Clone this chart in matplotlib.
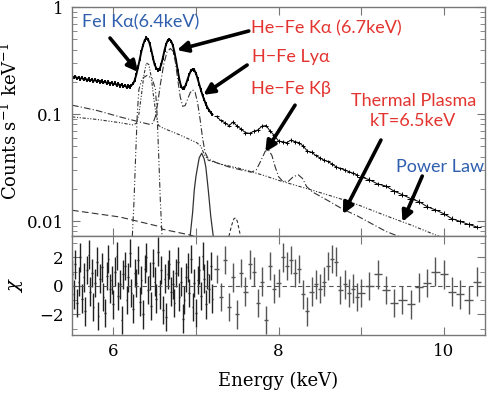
import numpy as np
import matplotlib.pyplot as plt

plt.rcParams['font.family'] = 'DejaVu Serif'
plt.rcParams['mathtext.fontset'] = 'dejavuserif'

# --- observed spectrum, three binnings (counts s^-1 keV^-1) ---
e_fine = np.round(np.arange(5.50, 7.21, 0.02), 2)
spec_fine = [
    0.226, 0.218, 0.224, 0.215, 0.221, 0.212, 0.219, 0.210, 0.216, 0.207,
    0.213, 0.205, 0.211, 0.203, 0.209, 0.201, 0.207, 0.199, 0.204, 0.196,
    0.202, 0.194, 0.199, 0.191, 0.197, 0.189, 0.195, 0.186, 0.192, 0.183,
    0.189, 0.180, 0.186, 0.178, 0.183, 0.179, 0.186, 0.192, 0.208, 0.236,
    0.275, 0.325, 0.385, 0.440, 0.490, 0.515, 0.500, 0.455, 0.395, 0.335,
    0.290, 0.268, 0.258, 0.262, 0.290, 0.335, 0.395, 0.450, 0.490, 0.500,
    0.480, 0.440, 0.380, 0.315, 0.255, 0.210, 0.182, 0.172, 0.175, 0.190,
    0.212, 0.235, 0.255, 0.262, 0.258, 0.240, 0.215, 0.190, 0.168, 0.150,
    0.136, 0.124, 0.115, 0.108, 0.103, 0.099,
]
e_mid = np.round(np.arange(7.25, 8.96, 0.05), 2)
spec_mid = [
    0.095, 0.087, 0.083, 0.078, 0.084, 0.077, 0.072, 0.067, 0.066, 0.069,
    0.071, 0.077, 0.078, 0.069, 0.063, 0.056, 0.055, 0.054, 0.057, 0.055,
    0.054, 0.050, 0.045, 0.044, 0.041, 0.039, 0.037, 0.036, 0.034, 0.032,
    0.031, 0.030, 0.029, 0.028, 0.027,
]
e_wide = np.round(np.arange(9.0, 10.41, 0.1), 1)
spec_wide = [0.0258, 0.0243, 0.0222, 0.0212, 0.0190, 0.0176, 0.0162, 0.0152,
             0.0136, 0.0127, 0.0117, 0.0105, 0.0099, 0.0093, 0.0088]
rel_err = [0.035, 0.04, 0.05]
half_bin = [0.01, 0.025, 0.05]

# --- residuals (chi) on the same bins ---
chi_fine = [
    0.8, -0.6, 1.5, -1.2, 0.3, 2.0, -0.9, 0.6, -1.8, 1.1,
    2.2, -0.4, 0.9, -1.5, 0.2, 1.7, -2.1, 0.5, 1.3, -0.8,
    -1.9, 0.7, 1.9, -0.2, 0.4, -1.3, 1.0, 2.1, -0.7, 0.1,
    -2.4, 0.8, 1.4, -1.0, 0.6, 2.3, -0.5, -1.6, 0.9, 0.2,
    1.8, -1.1, 0.4, -2.0, 1.2, 2.0, -0.3, 0.7, -1.4, 1.6,
    0.3, -0.9, 2.4, -0.6, 1.1, -1.7, 0.5, -2.2, 0.8, 1.5,
    -0.4, 0.1, -1.2, 0.9, 1.7, -0.8, 0.3, -2.3, -1.0, 0.6,
    1.3, -0.5, 1.9, -1.5, 0.2, -1.9, 0.4, 1.1, -0.7, 2.1,
    0.5, -1.3, 0.8, -0.2, 1.4, -0.9,
]
chi_mid = [
    1.2, -0.8, 1.8, -1.5, 0.6, -2.0, 0.9, -0.4, 1.5, 1.0,
    -1.2, 0.3, -2.4, 1.4, -0.2, 0.2, 2.0, 1.4, 1.8, 0.9,
    1.2, -0.6, -1.8, -0.4, 0.1, -0.2, 0.3, 1.4, 1.9, 1.7,
    -0.3, 0.1, -0.5, -0.2, -0.8,
]
chi_wide = [-0.5, 0.0, 0.8, -0.3, -1.2, -1.0, -1.3, -0.1, 0.2, 1.0,
            0.8, -0.4, -0.6, -1.0, 0.3]

# --- model components ---
thermal_e = [5.50, 5.80, 6.08, 6.30, 6.44, 6.48, 6.51, 6.54, 6.57, 6.61,
             6.65, 6.69, 6.72, 6.75, 6.78, 6.81, 6.84, 6.87, 6.90, 6.93,
             6.96, 6.99, 7.02, 7.05, 7.08, 7.11, 7.15, 7.25, 7.40, 7.55,
             7.67, 7.73, 7.79, 7.84, 7.88, 7.92, 7.96, 8.00, 8.05, 8.12,
             8.18, 8.24, 8.29, 8.34, 8.41, 8.60, 8.77, 8.95, 9.11, 9.30,
             9.45, 9.60]
thermal_v = [0.121, 0.108, 0.094, 0.085, 0.080, 0.082, 0.095, 0.13, 0.19, 0.29,
             0.38, 0.41, 0.39, 0.31, 0.21, 0.145, 0.118, 0.120, 0.138, 0.158,
             0.168, 0.160, 0.128, 0.090, 0.060, 0.044, 0.038, 0.035, 0.032, 0.030,
             0.0286, 0.030, 0.037, 0.045, 0.046, 0.041, 0.032, 0.026, 0.0235, 0.0235,
             0.026, 0.027, 0.025, 0.021, 0.0187, 0.0155, 0.0130, 0.0112, 0.0096, 0.0080,
             0.0072, 0.0064]

plaw_e = [5.50, 5.80, 6.08, 6.24, 6.28, 6.31, 6.34, 6.37, 6.40, 6.43,
          6.46, 6.49, 6.52, 6.55, 6.60, 6.80, 7.01, 7.06, 7.10, 7.15,
          7.30, 7.53, 7.80, 8.00, 8.40, 8.87, 9.30, 9.60, 9.96, 10.10]
plaw_v = [0.094, 0.089, 0.083, 0.079, 0.082, 0.10, 0.15, 0.23, 0.300, 0.29,
          0.22, 0.14, 0.095, 0.078, 0.074, 0.064, 0.054, 0.050, 0.042, 0.037,
          0.034, 0.031, 0.027, 0.024, 0.0195, 0.0151, 0.0112, 0.0092, 0.0071, 0.0066]

feka_e = [6.23, 6.25, 6.27, 6.29, 6.31, 6.35, 6.41, 6.47, 6.51, 6.53, 6.55, 6.57, 6.59]
feka_v = [0.0072, 0.015, 0.04, 0.10, 0.17, 0.215, 0.23, 0.215, 0.17, 0.10, 0.04, 0.015, 0.0072]

fekb_e = [6.93, 6.96, 6.98, 7.00, 7.02, 7.04, 7.07, 7.10, 7.12, 7.15, 7.18, 7.21]
fekb_v = [0.0072, 0.012, 0.0194, 0.026, 0.032, 0.039, 0.043, 0.038, 0.032, 0.0194, 0.011, 0.0072]

ni_e = [7.40, 7.43, 7.46, 7.48, 7.50, 7.52, 7.54]
ni_v = [0.0072, 0.0090, 0.0105, 0.0107, 0.0100, 0.0085, 0.0072]

low_e = [5.50, 6.08, 6.58, 6.59, 6.93, 7.00]
low_v = [0.0126, 0.0109, 0.0088, 0.0084, 0.0074, 0.0071]

RED = '#e3342f'
BLUE = '#2f5fae'
LINE = '#333333'
SPINE = '#777777'
ANN_FONT = ['Lato', 'DejaVu Sans']

fig = plt.figure(figsize=(4.99, 3.95), dpi=100)
ax = fig.add_axes([0.1443, 0.4025, 0.8277, 0.5797])
axr = fig.add_axes([0.1443, 0.1519, 0.8277, 0.2506], sharex=ax)

# data
groups = [(e_fine, spec_fine, chi_fine), (e_mid, spec_mid, chi_mid), (e_wide, spec_wide, chi_wide)]
for i, (e, s, c) in enumerate(groups):
    s = np.array(s)
    lw = 1.3 if i == 0 else 0.7
    ax.errorbar(e, s, xerr=half_bin[i], yerr=s * rel_err[i], fmt='none',
                ecolor='black', elinewidth=lw)
    ax.plot(e, s, color='black', lw=1.4 if i == 0 else 0.7)
    col = '#222222' if i == 0 else '#555555'
    axr.errorbar(e, c, xerr=half_bin[i], yerr=1.0, fmt='none', ecolor=col, elinewidth=1.0)

# model components
ax.plot(thermal_e, thermal_v, color=LINE, lw=0.8, ls=(0, (6, 2, 1, 2)))
ax.plot(plaw_e, plaw_v, color=LINE, lw=0.8, ls=(0, (3, 1.5, 1, 1.5, 1, 1.5)))
ax.plot(feka_e, feka_v, color=LINE, lw=0.8, ls=(0, (5, 2, 1, 2, 1, 2)))
ax.plot(fekb_e, fekb_v, color=LINE, lw=0.9)
ax.plot(ni_e, ni_v, color=LINE, lw=0.8, ls=(0, (3, 2)))
ax.plot(low_e, low_v, color=LINE, lw=0.8, ls=(0, (6, 3)))

axr.axhline(0, color='#555555', lw=0.8, ls=(0, (4, 3)))

ax.set_yscale('log')
ax.set_xlim(5.5, 10.5)
ax.set_ylim(0.00724, 1.0)
ax.set_yticks([0.01, 0.1, 1], labels=['0.01', '0.1', '1'])
axr.set_ylim(-3.45, 3.5)
axr.set_yticks([-2, 0, 2], labels=['\u22122', '0', '2'])
axr.set_yticks([-3, -1, 1, 3], minor=True)
axr.set_xticks([6, 7, 8, 9, 10], labels=['6', '', '8', '', '10'])
ax.tick_params(labelbottom=False)

for a in (ax, axr):
    a.tick_params(which='both', direction='in', top=True, right=True,
                  color=SPINE, labelsize=12, pad=6)
    a.tick_params(which='major', length=6)
    a.tick_params(which='minor', length=3.5)
    for sp in a.spines.values():
        sp.set_color(SPINE)
        sp.set_linewidth(1.0)

ax.set_ylabel('Counts s$^{-1}$ keV$^{-1}$', fontsize=13, labelpad=4)
axr.set_ylabel('$\\chi$', fontsize=14, labelpad=10)
axr.set_xlabel('Energy (keV)', fontsize=13, labelpad=8)
fig.align_ylabels([ax, axr])

# annotations
arrow = dict(arrowstyle='-|>', lw=2.6, mutation_scale=16, color='black',
             shrinkA=0, shrinkB=0)
arrows = [((6.30, 0.247), (5.96, 0.513)),
          ((6.77, 0.396), (7.64, 0.597)),
          ((7.09, 0.151), (7.62, 0.287)),
          ((7.84, 0.0441), (8.20, 0.121)),
          ((8.78, 0.0116), (9.24, 0.0571)),
          ((9.50, 0.0098), (9.74, 0.0263))]
for head, tail in arrows:
    ax.annotate('', xy=head, xytext=tail, arrowprops=arrow)

labels = [('FeI K\u03b1(6.4keV)', 5.62, 0.724, BLUE, 'left'),
          ('He\u2212Fe K\u03b1 (6.7keV)', 7.67, 0.636, RED, 'left'),
          ('H\u2212Fe Ly\u03b1', 7.68, 0.341, RED, 'left'),
          ('He\u2212Fe K\u03b2', 7.67, 0.171, RED, 'left'),
          ('Thermal Plasma\nkT=6.5keV', 9.63, 0.107, RED, 'center'),
          ('Power Law', 9.42, 0.032, BLUE, 'left')]
for txt, x, y, col, ha in labels:
    ax.text(x, y, txt, color=col, ha=ha, va='center', fontsize=13,
            family=ANN_FONT, linespacing=1.3)

fig.savefig('out.png', dpi=100)
